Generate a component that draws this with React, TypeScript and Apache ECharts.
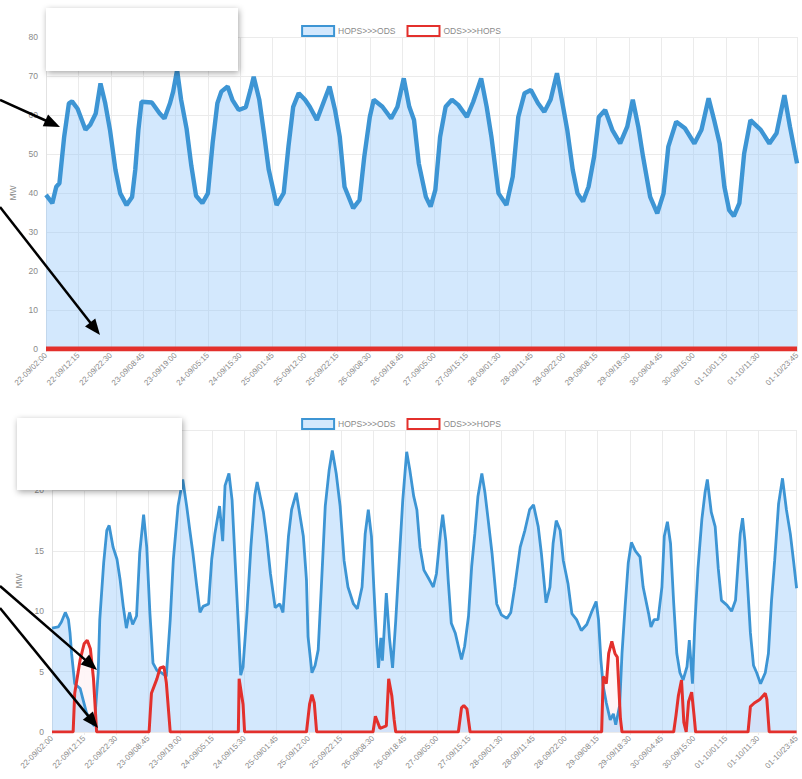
import React, { useEffect, useRef } from 'react';
import * as echarts from 'echarts';

// ---- data ----
const SERIES_NAMES = ['HOPS>>>ODS', 'ODS>>>HOPS'];
const Y_NAME = 'MW';
const TICK_LABELS = [
  '22-09/02:00', '22-09/12:15', '22-09/22:30', '23-09/08:45', '23-09/19:00', '24-09/05:15',
  '24-09/15:30', '25-09/01:45', '25-09/12:00', '25-09/22:15', '26-09/08:30', '26-09/18:45',
  '27-09/05:00', '27-09/15:15', '28-09/01:30', '28-09/11:45', '28-09/22:00', '29-09/08:15',
  '29-09/18:30', '30-09/04:45', '30-09/15:00', '01-10/01:15', '01-10/11:30', '01-10/23:45',
];

// times are quarter-hours after 22-09/02:00
const TOP_HOPS_T = [0, 8, 13, 17, 23, 29, 33, 40, 50, 56, 63, 69, 75, 81, 88, 94, 102, 109, 113, 117, 121, 134, 144, 150, 157, 161, 166, 171, 178, 184, 190, 198, 205, 211, 217, 222, 230, 236, 244, 253, 259, 263, 270, 276, 282, 292, 301, 307, 313, 320, 328, 334, 343, 351, 359, 366, 372, 378, 389, 397, 403, 410, 415, 426, 437, 445, 453, 460, 466, 472, 481, 487, 493, 499, 506, 514, 522, 533, 541, 551, 558, 564, 573, 583, 591, 598, 606, 614, 623, 631, 639, 647, 654, 660, 667, 673, 680, 687, 694, 700, 708, 717, 727, 736, 743, 750, 756, 765, 774, 782, 788, 798, 809, 821, 830, 839, 846, 853, 859, 865, 871, 878, 884, 892, 905, 916, 925, 935, 942, 951];
const TOP_HOPS_V = [39.5, 37.4, 41.6, 42.5, 54.4, 63, 63.5, 61.6, 56.2, 57.5, 60.4, 68.1, 63, 56.2, 45.9, 39.9, 36.9, 39, 45.9, 56.2, 63.4, 63.2, 60.4, 59.1, 63, 66, 71.5, 64, 56.5, 47, 39.3, 37.4, 39.9, 52.8, 63, 66, 67.3, 63.9, 61.3, 62, 66.5, 69.8, 64, 55.3, 46, 36.9, 40, 51.9, 62.1, 65.6, 63.9, 62.1, 58.7, 63, 67.3, 61.3, 54.4, 41.6, 36.1, 38.2, 49.3, 59.5, 63.9, 62.1, 59.1, 62.1, 69.4, 62.1, 58.7, 47.6, 39, 36.5, 40.8, 54.4, 62.1, 63.9, 62.6, 59.5, 63.4, 69.4, 62.1, 54.4, 39.9, 36.9, 44.2, 59.5, 65.6, 66.4, 63, 60.8, 64, 70.7, 63, 56.2, 45.9, 39.9, 37.8, 41.6, 49.3, 59.5, 61.3, 56.2, 52.7, 57, 63.9, 57, 49.3, 39, 34.8, 39.9, 51.9, 58.3, 56.6, 52.7, 56.2, 64.3, 58.7, 52.7, 41.6, 35.6, 34.1, 37.4, 50.1, 58.7, 56.2, 52.7, 55.3, 65.1, 57, 47.6];
const TOP_ODS_T = [0, 951];
const TOP_ODS_V = [0, 0];

const BOT_HOPS_T = [0, 8, 12, 17, 21, 23, 25, 29, 36, 40, 44, 49, 54, 59, 61, 66, 70, 73, 78, 83, 87, 91, 95, 99, 103, 108, 112, 117, 121, 125, 129, 134, 140, 146, 151, 155, 161, 167, 172, 176, 180, 185, 189, 193, 200, 204, 208, 214, 218, 221, 226, 230, 234, 238, 241, 244, 249, 254, 259, 262, 270, 274, 279, 285, 291, 295, 302, 306, 312, 317, 321, 325, 327, 332, 336, 340, 344, 349, 354, 358, 363, 368, 373, 378, 385, 390, 396, 400, 404, 408, 411, 415, 417, 420, 422, 425, 427, 431, 435, 439, 444, 448, 453, 457, 462, 466, 470, 475, 482, 487, 491, 496, 499, 503, 506, 510, 515, 519, 523, 527, 532, 536, 540, 544, 549, 553, 557, 562, 568, 574, 581, 586, 591, 598, 604, 610, 615, 621, 625, 631, 636, 640, 644, 649, 653, 659, 664, 670, 676, 683, 689, 695, 698, 701, 704, 708, 713, 717, 720, 725, 728, 732, 736, 740, 745, 751, 755, 762, 765, 769, 774, 779, 782, 786, 790, 794, 798, 802, 806, 811, 814, 818, 821, 825, 830, 834, 837, 842, 847, 851, 855, 862, 868, 873, 876, 879, 882, 885, 888, 892, 896, 900, 905, 911, 915, 919, 923, 928, 933, 938, 943, 947, 951];
const BOT_HOPS_V = [8.6, 8.7, 9.1, 9.9, 9.3, 8.2, 6.5, 4.0, 3.6, 2.6, 1.6, 1.0, 0.5, 4.9, 9.3, 14, 16.7, 17.1, 15.3, 14.3, 12.6, 10.4, 8.6, 9.9, 8.9, 9.6, 14.8, 18, 15.3, 9.9, 5.7, 5.1, 4.9, 4.6, 9.3, 14.3, 18.7, 20.9, 18.7, 16.7, 14.8, 12, 9.9, 10.4, 10.6, 14.3, 16.4, 18.7, 15.8, 20.4, 21.4, 19.2, 14, 8.9, 4.7, 5.4, 9.9, 15.3, 19.6, 20.7, 18.2, 16.2, 13.1, 10.3, 10.6, 9.9, 16.2, 18.4, 19.8, 17.8, 16.2, 12.6, 7.9, 4.9, 5.5, 6.8, 12, 18.7, 21.7, 23.3, 21.4, 18.7, 14.2, 12, 10.6, 10.2, 12, 16.4, 18.4, 16.2, 12, 7.1, 5.3, 7.8, 5.9, 9.2, 11.5, 7.8, 5.3, 9.2, 14.8, 19.2, 23.2, 21.7, 19.5, 18.4, 15.3, 13.4, 12.6, 12, 13.1, 16.4, 18, 15.8, 12.6, 9, 8.2, 7.1, 6.0, 7.1, 9.6, 13.7, 16.4, 19.5, 21.4, 19.8, 17.6, 14.8, 10.6, 9.7, 9.4, 9.9, 12, 15.3, 16.7, 18.4, 18.8, 17, 14.8, 10.7, 12, 15.6, 17.5, 16.7, 14.2, 12.3, 9.8, 9.3, 8.4, 8.9, 9.9, 10.8, 9.3, 6, 3.8, 2.4, 1.0, 1.5, 0.6, 2.2, 6.5, 10.4, 14, 15.7, 15, 14.5, 12, 9.8, 8.7, 9.3, 9.3, 12, 16.2, 17.4, 15.6, 10.7, 6.5, 4.9, 4.3, 5.4, 7.6, 4.0, 8.9, 13.5, 17.6, 19.8, 20.9, 18.2, 17, 13.5, 10.9, 10.5, 10, 10.9, 13.7, 16.4, 17.7, 15.8, 12.6, 8.2, 5.5, 4.9, 4.0, 4.9, 6.5, 10.9, 14.2, 18.9, 21, 18.4, 16.4, 14.2, 11.9];

const BOT_ODS_T = [0, 27, 29, 36, 41, 45, 49, 53, 57, 124, 127, 134, 138, 143, 146, 151, 238, 239, 244, 246, 325, 329, 332, 335, 338, 410, 413, 416, 419, 427, 430, 434, 437, 439, 519, 523, 526, 530, 534, 702, 704, 708, 711, 715, 719, 722, 726, 728, 794, 797, 800, 804, 807, 810, 813, 817, 820, 822, 889, 892, 897, 904, 911, 913, 916, 951];
const BOT_ODS_V = [0, 0, 3.2, 6, 7.3, 7.6, 6.9, 4.4, 0, 0, 3.2, 4.4, 5.3, 5.4, 4.1, 0, 0, 4.4, 2.3, 0, 0, 2.3, 3.1, 2.4, 0, 0, 1.3, 0.8, 0.3, 0.5, 4.4, 3, 1, 0, 0, 2, 2.2, 1.9, 0, 0, 4.6, 4, 6.5, 7.5, 6.5, 6.2, 1.1, 0, 0, 1.4, 3, 4.3, 0.8, 0, 2.5, 3.3, 1.4, 0, 0, 2.1, 2.4, 2.7, 3.2, 2.7, 0, 0];

// ---- helpers ----
const toQuarter = (s: string) => {
  const [d, rest] = s.split('-');
  const [mo, hm] = rest.split('/');
  const [h, m] = hm.split(':');
  return Date.UTC(2019, +mo - 1, +d, +h, +m) / 900000;
};
const Q0 = toQuarter(TICK_LABELS[0]);
const TICK_POS = TICK_LABELS.map((s) => toQuarter(s) - Q0);
const pairs = (t: number[], v: number[]) => t.map((x, i) => [x, v[i]]);

const BLUE = '#3d95d4';
const BLUE_FILL = 'rgba(150,200,250,0.42)';
const RED = '#e3302c';
const RED_FILL = 'rgba(255,244,246,0.92)';
const GRID_C = '#ebebeb';
const TXT = '#8a8a8a';
const FONT = '"Liberation Sans", Arial, sans-serif';

function arrow(x1: number, y1: number, x2: number, y2: number) {
  const dx = x2 - x1, dy = y2 - y1;
  const L = Math.hypot(dx, dy);
  const ux = dx / L, uy = dy / L;
  const hl = 16, hw = 6.5;
  const bx = x2 - ux * hl, by = y2 - uy * hl;
  return [
    { type: 'line', z: 100, shape: { x1, y1, x2: bx + ux * 2, y2: by + uy * 2 }, style: { stroke: '#000', lineWidth: 2.5 } },
    { type: 'polygon', z: 100, shape: { points: [[x2, y2], [bx - uy * hw, by + ux * hw], [bx + uy * hw, by - ux * hw]] }, style: { fill: '#000' } },
  ];
}

function xAxis(gridIndex: number) {
  return {
    type: 'value', gridIndex, min: 0, max: TICK_POS[TICK_POS.length - 1], interval: 41,
    axisLine: { show: false },
    axisTick: { show: true, customValues: TICK_POS, length: 3, lineStyle: { color: GRID_C } },
    axisLabel: {
      customValues: TICK_POS, rotate: 45, fontSize: 8, color: TXT, margin: 5, fontFamily: FONT,
      formatter: (val: number) => {
        const k = TICK_POS.indexOf(Math.round(val));
        return k >= 0 ? TICK_LABELS[k] : '';
      },
    },
    splitLine: { show: true, lineStyle: { color: GRID_C, width: 1 } },
  };
}

function yAxis(gridIndex: number, max: number, interval: number, nameGap: number) {
  return {
    type: 'value', gridIndex, min: 0, max, interval,
    name: Y_NAME, nameLocation: 'middle', nameRotate: 90, nameGap,
    nameTextStyle: { fontSize: 8.5, color: TXT, fontFamily: FONT },
    axisLine: { show: true, lineStyle: { color: '#e2e2e2' } },
    axisTick: { show: false },
    axisLabel: { fontSize: 8.5, color: TXT, margin: 8, fontFamily: FONT },
    splitLine: { show: true, lineStyle: { color: GRID_C } },
  };
}

function legend(top: number) {
  return {
    top, left: 'center', itemWidth: 32, itemHeight: 10, itemGap: 11,
    textStyle: { fontSize: 8.5, color: TXT, fontFamily: FONT, padding: [0, 0, 0, -1] },
    selectedMode: false,
    data: [
      { name: SERIES_NAMES[0], icon: 'rect', itemStyle: { color: BLUE_FILL, borderColor: BLUE, borderWidth: 2 } },
      { name: SERIES_NAMES[1], icon: 'rect', itemStyle: { color: '#ffffff', borderColor: RED, borderWidth: 2 } },
    ],
  };
}

export default function App() {
  const ref = useRef<HTMLDivElement>(null);
  useEffect(() => {
    if (!ref.current) return;
    const chart = echarts.init(ref.current, undefined, { renderer: 'svg' });
    const botOds = pairs(BOT_ODS_T, BOT_ODS_V);
    const option = {
      animation: false,
      backgroundColor: '#ffffff',
      textStyle: { fontFamily: FONT },
      legend: [legend(20), legend(413)],
      grid: [
        { left: 45, top: 37, width: 758.5, height: 312, containLabel: false },
        { left: 52, top: 430, width: 744.6, height: 302, containLabel: false },
      ],
      xAxis: [xAxis(0), xAxis(1)],
      yAxis: [yAxis(0, 80, 10, 29), yAxis(1, 25, 5, 28)],
      series: [
        {
          name: SERIES_NAMES[0], type: 'line', xAxisIndex: 0, yAxisIndex: 0,
          data: pairs(TOP_HOPS_T, TOP_HOPS_V), showSymbol: false, z: 2,
          lineStyle: { color: BLUE, width: 4.4 }, itemStyle: { color: BLUE },
          areaStyle: { color: BLUE_FILL, opacity: 1 },
        },
        {
          name: SERIES_NAMES[1], type: 'line', xAxisIndex: 0, yAxisIndex: 0,
          data: pairs(TOP_ODS_T, TOP_ODS_V), showSymbol: false, z: 3,
          lineStyle: { color: RED, width: 5 }, itemStyle: { color: RED },
        },
        // bottom: ODS>>>HOPS fill underneath, HOPS>>>ODS above it, ODS>>>HOPS line on top
        {
          name: SERIES_NAMES[1], type: 'line', xAxisIndex: 1, yAxisIndex: 1,
          data: botOds, showSymbol: false, z: 1,
          lineStyle: { width: 0, color: RED }, itemStyle: { color: RED },
          areaStyle: { color: RED_FILL, opacity: 1 },
        },
        {
          name: SERIES_NAMES[0], type: 'line', xAxisIndex: 1, yAxisIndex: 1,
          data: pairs(BOT_HOPS_T, BOT_HOPS_V), showSymbol: false, z: 2,
          lineStyle: { color: BLUE, width: 2.8 }, itemStyle: { color: BLUE },
          areaStyle: { color: BLUE_FILL, opacity: 1 },
        },
        {
          name: SERIES_NAMES[1], type: 'line', xAxisIndex: 1, yAxisIndex: 1,
          data: botOds, showSymbol: false, z: 3,
          lineStyle: { color: RED, width: 3 }, itemStyle: { color: RED },
        },
      ],
      graphic: [
        { type: 'rect', z: 100, shape: { x: 46, y: 8, width: 192, height: 63 }, style: { fill: '#ffffff', shadowBlur: 6, shadowColor: 'rgba(0,0,0,0.35)', shadowOffsetX: 1, shadowOffsetY: 2 } },
        { type: 'rect', z: 100, shape: { x: 17, y: 418, width: 165, height: 72 }, style: { fill: '#ffffff', shadowBlur: 6, shadowColor: 'rgba(0,0,0,0.35)', shadowOffsetX: 1, shadowOffsetY: 2 } },
        ...arrow(0, 100, 60, 127),
        ...arrow(0, 207, 100, 335),
        ...arrow(0, 586, 97, 670),
        ...arrow(0, 608, 98, 728),
      ],
    };
    chart.setOption(option as any);
    return () => chart.dispose();
  }, []);
  return (
    <div
      ref={ref}
      style={{ position: 'absolute', left: 0, top: 0, width: 802, height: 779, background: '#fff' }}
    />
  );
}
